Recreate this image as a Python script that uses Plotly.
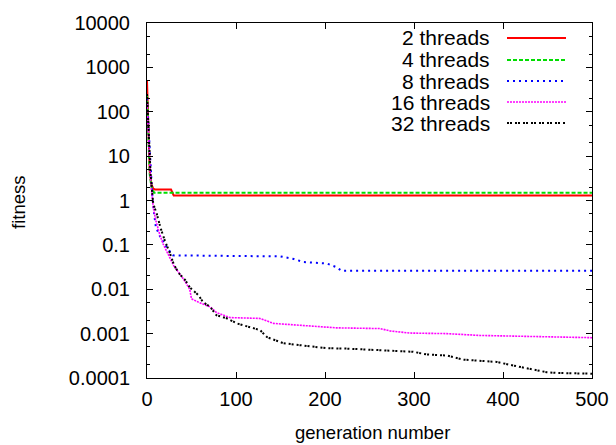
import plotly.graph_objects as go

# best fitness per generation
gen_2 = [0, 1, 2, 3, 5, 7, 9, 27, 30, 500]
fit_2 = [500, 60, 12, 4.7, 2.3, 1.85, 1.78, 1.77, 1.3, 1.3]

gen_4 = [0, 1, 2, 3, 5, 8, 500]
fit_4 = [240, 40, 9, 4, 2.0, 1.5, 1.5]

gen_8 = [0, 2, 4, 6, 8, 10, 15, 22, 29, 150, 165, 176, 202, 212, 219, 500]
fit_8 = [200, 30, 5, 1.2, 0.5, 0.25, 0.15, 0.089, 0.058, 0.055, 0.048, 0.041, 0.038, 0.032, 0.026, 0.026]

gen_16 = [0, 2, 4, 7, 10, 14, 18, 24, 30, 41, 48, 50, 58, 71, 78, 93, 127, 142, 161, 198, 213,
          262, 273, 295, 337, 374, 411, 500]
fit_16 = [150, 20, 3, 0.7, 0.35, 0.18, 0.106, 0.06, 0.034, 0.017, 0.010, 0.0061, 0.0051, 0.0040,
          0.0030, 0.0023, 0.0022, 0.0017, 0.0016, 0.0014, 0.00135, 0.0013, 0.00115, 0.00103,
          0.0010, 0.00091, 0.00087, 0.00081]

gen_32 = [0, 2, 4, 7, 11, 15, 20, 26, 30, 35, 43, 48, 58, 63, 71, 78, 90, 101, 116, 127, 135, 142,
          153, 168, 179, 202, 224, 269, 299, 314, 337, 355, 393, 412, 430, 449, 460, 500]
fit_32 = [250, 30, 4, 0.84, 0.5, 0.25, 0.125, 0.063, 0.037, 0.024, 0.016, 0.011, 0.0073, 0.0051,
          0.0040, 0.0026, 0.0022, 0.0017, 0.0014, 0.0012, 0.00083, 0.00073, 0.00061, 0.00056,
          0.00053, 0.00047, 0.00046, 0.00042, 0.00039, 0.00034, 0.00032, 0.00026, 0.00023,
          0.00019, 0.00016, 0.000135, 0.00013, 0.000125]

series_names = ["2 threads", "4 threads", "8 threads", "16 threads", "32 threads"]
y_tickvals = [1e4, 1e3, 1e2, 10, 1, 0.1, 0.01, 0.001, 0.0001]
y_ticktext = ["10000", "1000", "100", "10", "1", "0.1", "0.01", "0.001", "0.0001"]
x_tickvals = [0, 100, 200, 300, 400, 500]

FONT = "Liberation Sans, Arial, sans-serif"
FS = 20

styles = [
    dict(color="#ff0000", width=2, dash="solid"),
    dict(color="#00dd00", width=2, dash="4px,2px"),
    dict(color="#0000ff", width=2, dash="2px,4px"),
    dict(color="#ff00ff", width=1.6, dash="2px,1px"),
    dict(color="#000000", width=2, dash="2px,1px,2px,3px"),
]
data = [(gen_2, fit_2), (gen_4, fit_4), (gen_8, fit_8), (gen_16, fit_16), (gen_32, fit_32)]

L, R, T, B = 147, 24, 23, 67
W, H = 616, 445
pw, ph = W - L - R, H - T - B

def px(x):  # pixel -> paper x
    return (x - L) / pw

def py(y):  # pixel -> paper y
    return 1 - (y - T) / ph

fig = go.Figure()
for (g, f), name, st in zip(data, series_names, styles):
    fig.add_trace(go.Scatter(x=g, y=f, mode="lines", name=name, line=st, showlegend=False))

# gnuplot-style key: text right aligned, line sample on the right
key_y = [38, 60, 81, 102, 123]
for name, st, ky in zip(series_names, styles, key_y):
    fig.add_annotation(x=px(492), y=py(ky), xref="paper", yref="paper", text=name, showarrow=False,
                       xanchor="right", yanchor="middle", font=dict(size=21, color="black", family=FONT))
    fig.add_shape(type="line", xref="paper", yref="paper", x0=px(507), x1=px(566), y0=py(ky), y1=py(ky), line=st)

# axis titles
fig.add_annotation(x=px(372), y=py(432), xref="paper", yref="paper", text="generation number", showarrow=False,
                   xanchor="center", yanchor="middle", font=dict(size=18.5, color="black", family=FONT))
fig.add_annotation(x=px(18), y=py(203), xref="paper", yref="paper", text="fitness", showarrow=False,
                   textangle=-90, xanchor="center", yanchor="middle", font=dict(size=18.5, color="black", family=FONT))

fig.update_layout(autosize=False, width=W, height=H, margin=dict(l=L, r=R, t=T, b=B, pad=0),
                  paper_bgcolor="white", plot_bgcolor="white",
                  font=dict(family=FONT, size=FS, color="black"))
fig.update_xaxes(range=[0, 500], tickvals=x_tickvals, showline=True, linecolor="black", linewidth=1,
                 mirror="ticks", ticks="inside", ticklen=6, tickcolor="black", showgrid=False, zeroline=False,
                 automargin=False, ticklabelstandoff=3)
fig.update_yaxes(type="log", range=[-4, 4], tickvals=y_tickvals, ticktext=y_ticktext, showline=True,
                 linecolor="black", linewidth=1, mirror="allticks", ticks="inside", ticklen=6,
                 tickcolor="black", showgrid=False, zeroline=False, ticklabelstandoff=12, automargin=False,
                 minor=dict(ticks="inside", ticklen=3, tickcolor="black", dtick="D2", showgrid=False))

fig.write_html("out.html", config={"displayModeBar": False},
               post_script="document.body.style.margin='0px';")
